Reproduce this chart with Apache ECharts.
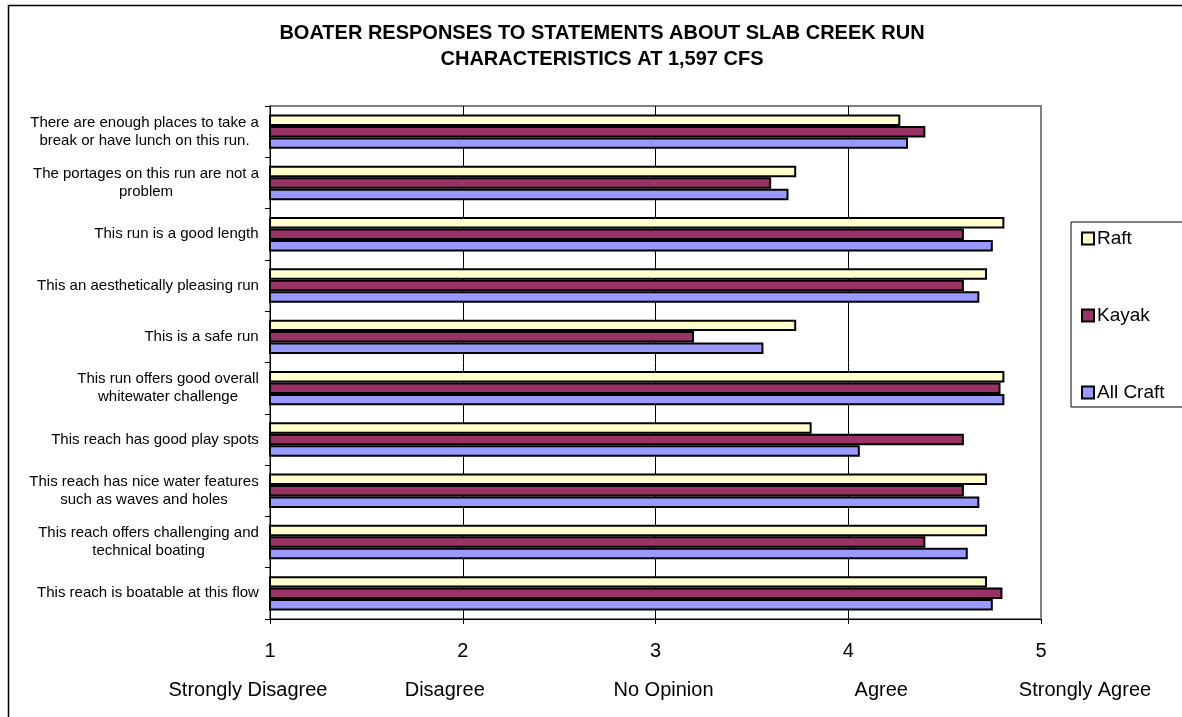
<!DOCTYPE html>
<html>
<head>
<meta charset="utf-8">
<script src="https://cdn.jsdelivr.net/npm/echarts@6/dist/echarts.min.js"></script>
<style>
  html, body { margin: 0; padding: 0; background: #fff; }
  #chart { width: 1182px; height: 717px; }
</style>
</head>
<body>
<div id="chart"></div>
<script>
// Survey statements, top to bottom
const categories = [
  'There are enough places to take a\nbreak or have lunch on this run.',
  'The portages on this run are not a\nproblem',
  'This run is a good length',
  'This an aesthetically pleasing run',
  'This is a safe run',
  'This run offers good overall\nwhitewater challenge',
  'This reach has good play spots',
  'This reach has nice water features\nsuch as waves and holes',
  'This reach offers challenging and\ntechnical boating',
  'This reach is boatable at this flow'
];

// Mean responses (1 = Strongly Disagree ... 5 = Strongly Agree)
const raft     = [4.27, 3.73, 4.81, 4.72, 3.73, 4.81, 3.81, 4.72, 4.72, 4.72];
const kayak    = [4.40, 3.60, 4.60, 4.60, 3.20, 4.79, 4.60, 4.60, 4.40, 4.80];
const allCraft = [4.31, 3.69, 4.75, 4.68, 3.56, 4.81, 4.06, 4.68, 4.62, 4.75];

const seriesNames = ['Raft', 'Kayak', 'All Craft'];
const scaleValues = [1, 2, 3, 4, 5];
const scaleLabels = ['Strongly Disagree', 'Disagree', 'No Opinion', 'Agree', 'Strongly Agree'];

const FONT = 'Arial, "Liberation Sans", sans-serif';

// Measure each statement so wrapped lines can be centred inside their own block
const ctx = document.createElement('canvas').getContext('2d');
ctx.font = '15px ' + FONT;
const rich = {};
categories.forEach((c, i) => {
  const w = Math.max(...c.split('\n').map(l => ctx.measureText(l).width));
  rich['c' + i] = { width: Math.ceil(w), align: 'center', fontSize: 15, lineHeight: 18,
                    fontFamily: FONT, color: '#000' };
});

const chart = echarts.init(document.getElementById('chart'), null, { renderer: 'canvas' });

const barStyle = (fill) => ({ color: fill, borderColor: '#000', borderWidth: 2 });

chart.setOption({
  animation: false,
  backgroundColor: '#fff',
  textStyle: { fontFamily: FONT },
  grid: {
    left: 270, right: 141, top: 106, bottom: 98,
    show: true, borderColor: '#808080', borderWidth: 2, backgroundColor: '#fff'
  },
  legend: {
    orient: 'vertical',
    left: 1071, top: 222,
    padding: [7, 40, 5, 10],
    borderColor: '#000', borderWidth: 1,
    itemWidth: 12, itemHeight: 12, itemGap: 58,
    icon: 'rect',
    data: seriesNames,
    textStyle: { fontSize: 19, color: '#000', fontFamily: FONT, padding: [0, 0, 0, -2] }
  },
  xAxis: {
    type: 'value', min: 1, max: 5, interval: 1,
    axisLine: { show: true, onZero: false, lineStyle: { color: '#000', width: 1 } },
    axisTick: { show: true, length: 5, lineStyle: { color: '#000' } },
    axisLabel: { fontSize: 20, color: '#000', margin: 22, fontFamily: FONT },
    splitLine: { show: true, showMinLine: false, showMaxLine: false,
                 lineStyle: { color: '#000', width: 1 } }
  },
  yAxis: {
    type: 'category', inverse: true,
    data: categories,
    axisLine: { show: true, lineStyle: { color: '#000', width: 1 } },
    axisTick: { show: true, length: 5, lineStyle: { color: '#000' } },
    axisLabel: {
      margin: 11,
      formatter: (value, index) => value.split('\n').map(l => '{c' + index + '|' + l + '}').join('\n'),
      rich: rich
    },
    splitLine: { show: false }
  },
  series: [
    { name: seriesNames[0], type: 'bar', data: raft,     itemStyle: barStyle('#FFFFCC'),
      barCategoryGap: '33%', barGap: '0%' },
    { name: seriesNames[1], type: 'bar', data: kayak,    itemStyle: barStyle('#993366'),
      barCategoryGap: '33%', barGap: '0%' },
    { name: seriesNames[2], type: 'bar', data: allCraft, itemStyle: barStyle('#9999FF'),
      barCategoryGap: '33%', barGap: '0%' }
  ]
});

// Verbal scale names under the numeric ticks (nudged like the original text boxes)
const scaleNudge = [-22, -18, 8, 33, 44];
const elements = [
  { type: 'rect', silent: true, z: 100,
    shape: { x: 8.5, y: 5.5, width: 1200, height: 730 },
    style: { fill: null, stroke: '#000', lineWidth: 1.5 } },
  { type: 'text', silent: true, z: 100, x: 602, y: 20,
    style: { text: 'BOATER RESPONSES TO STATEMENTS ABOUT SLAB CREEK RUN\nCHARACTERISTICS AT 1,597 CFS',
             font: 'bold 20px ' + FONT, fill: '#000', textAlign: 'center', lineHeight: 26 } }
];
scaleValues.forEach((v, i) => {
  const px = chart.convertToPixel({ xAxisIndex: 0 }, v);
  elements.push({ type: 'text', silent: true, z: 100, x: px + scaleNudge[i], y: 690,
    style: { text: scaleLabels[i], font: '20px ' + FONT, fill: '#000',
             textAlign: 'center', textVerticalAlign: 'middle' } });
});
chart.setOption({ graphic: { elements: elements } });
</script>
</body>
</html>
